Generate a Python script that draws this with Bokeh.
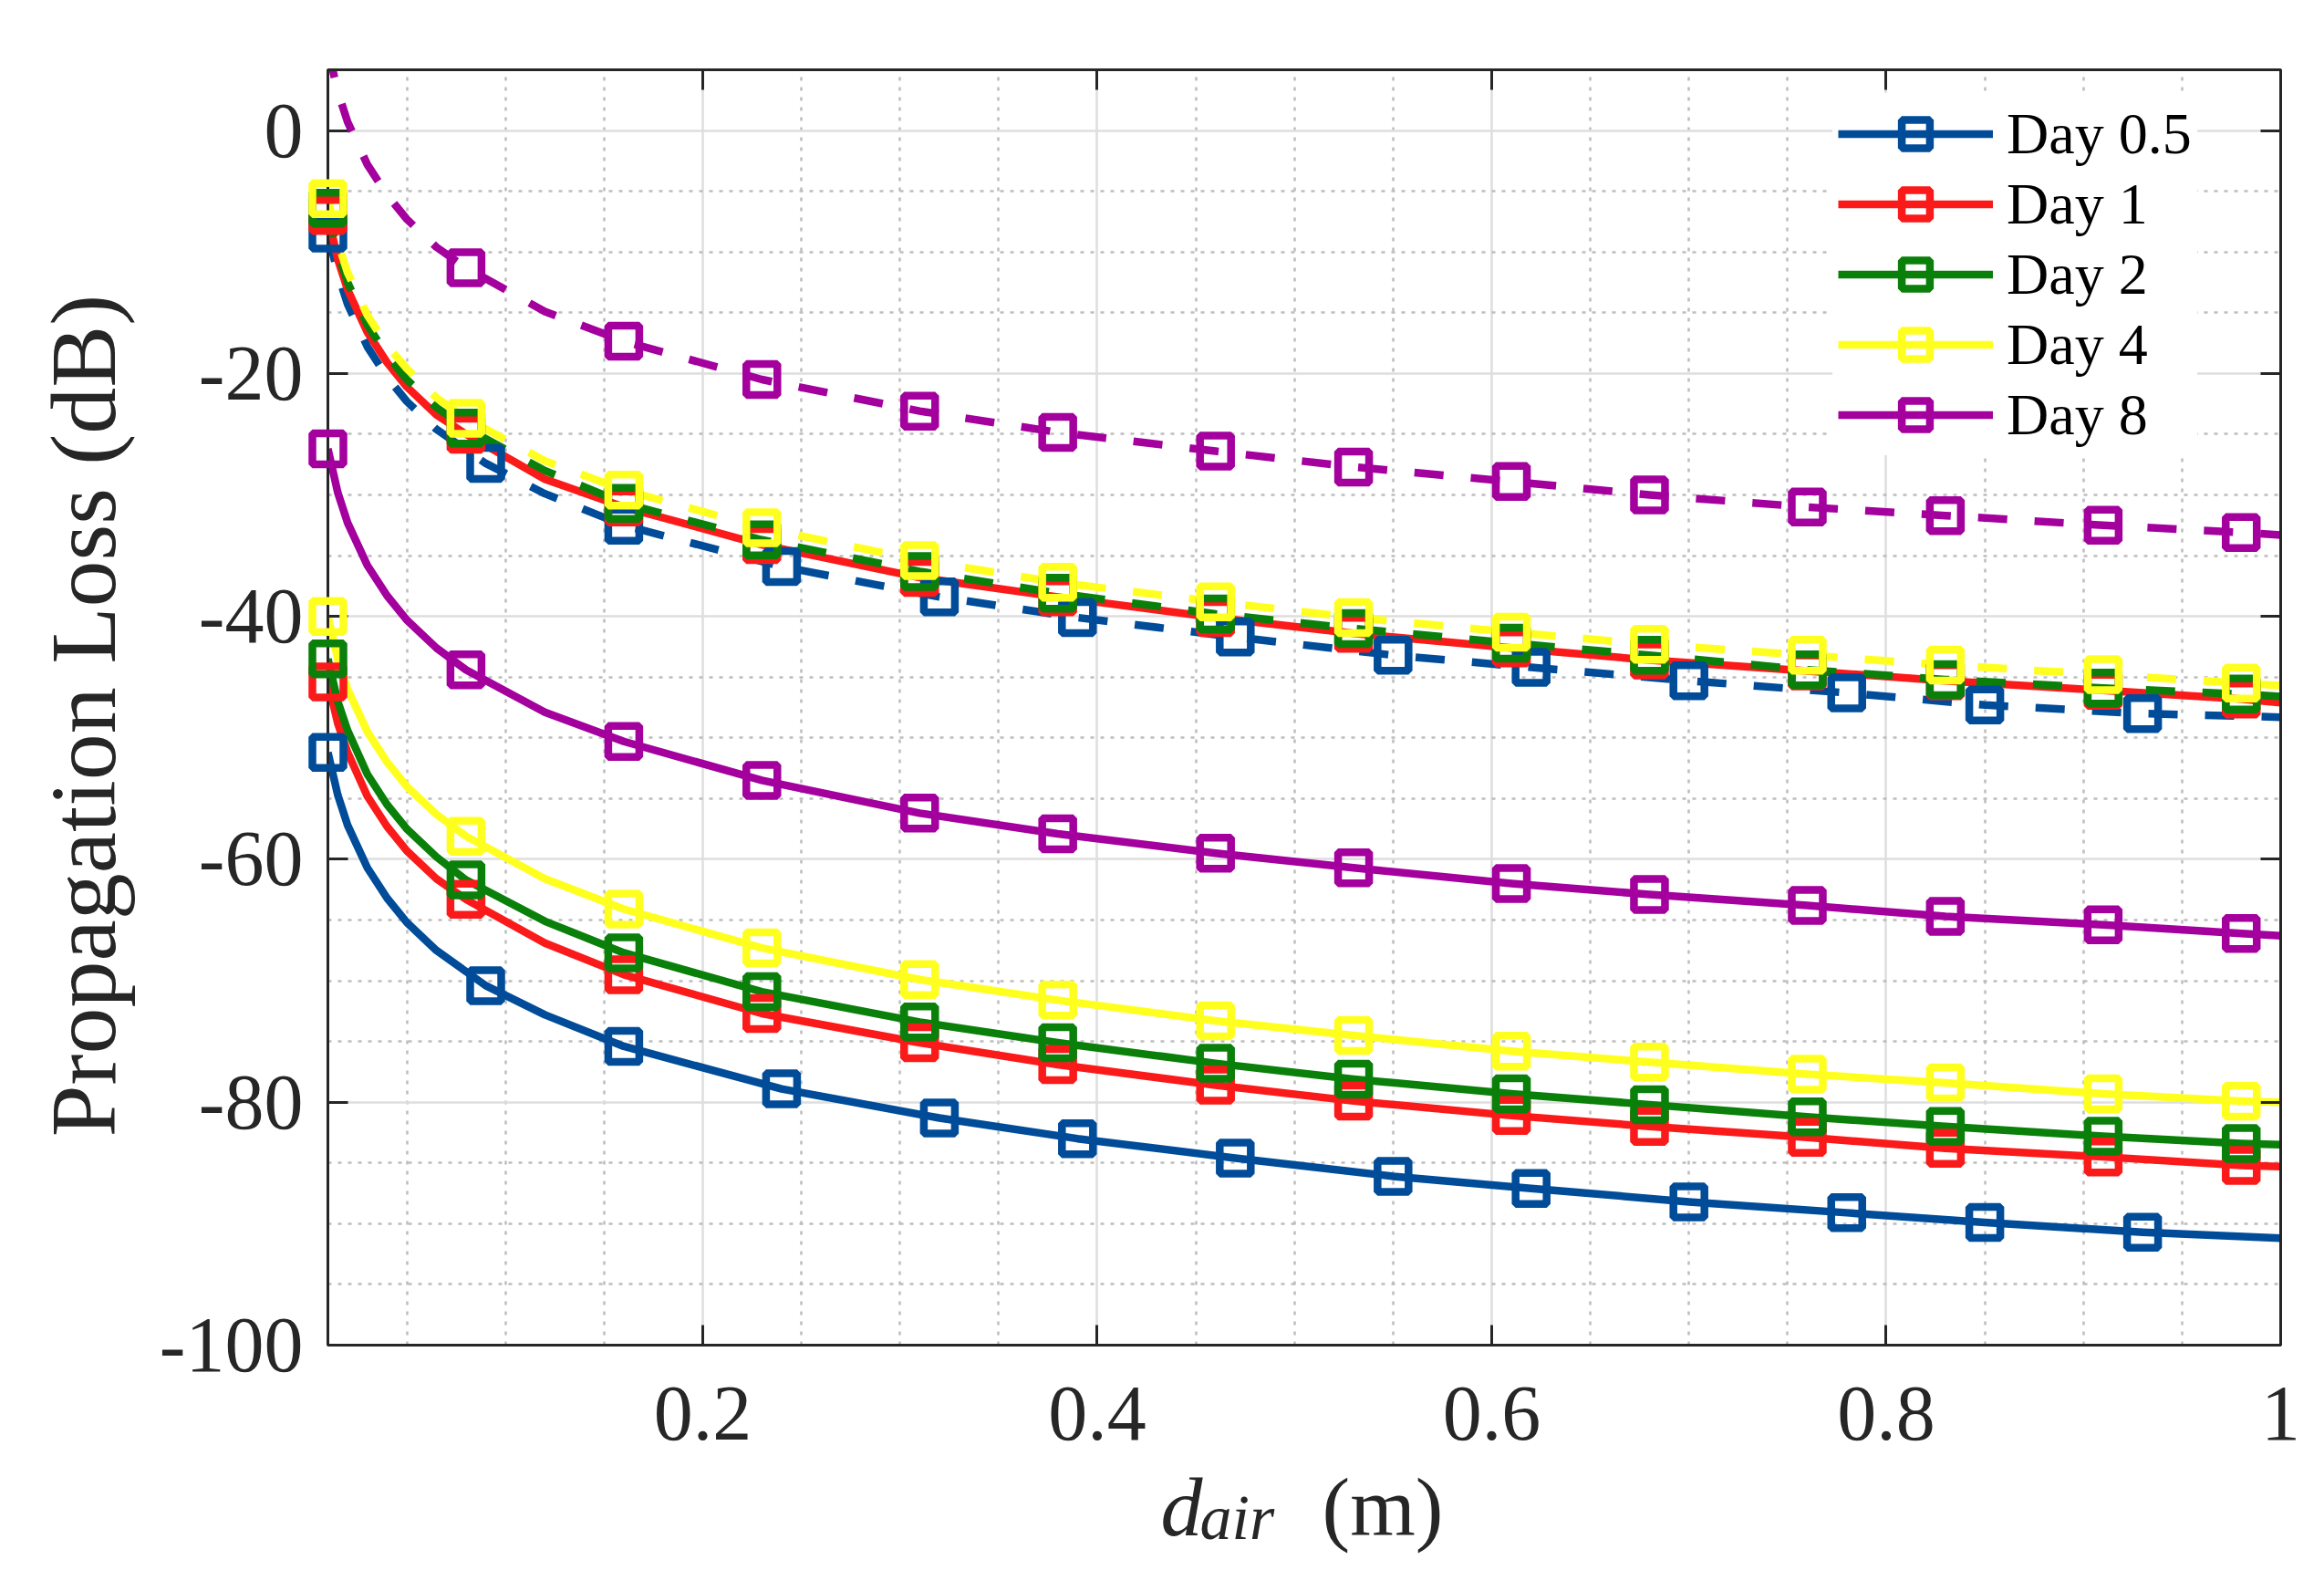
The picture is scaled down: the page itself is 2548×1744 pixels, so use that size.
import numpy as np
from bokeh.plotting import figure
from bokeh.models import Range1d, FixedTicker, LinearAxis, Legend, LegendItem
from bokeh.core.properties import value
from bokeh.embed import file_html
from bokeh.resources import INLINE

# ---------------- data ----------------
# marker positions along d_air (m)
MX_A = [0.01, 0.08, 0.16, 0.23, 0.31, 0.38, 0.46, 0.53, 0.61, 0.68, 0.76, 0.83, 0.91, 0.98]
MX_B = [0.01, 0.09, 0.16, 0.24, 0.32, 0.39, 0.47, 0.55, 0.62, 0.70, 0.78, 0.85, 0.93]
# extra line sample points (steep start of the curves) and last sample
X_HEAD = [0.015, 0.02, 0.03, 0.04, 0.05, 0.065, 0.12]
X_END = 1.0

# lower (solid) family
day05_lo_m = [-51.2, -70.4, -75.4, -78.9, -81.3, -83.0, -84.6, -86.1, -87.1, -88.2, -89.1, -89.9, -90.7]
day05_lo_h = [-54.7, -57.2, -60.7, -63.2, -65.2, -67.5, -72.8]
day05_lo_e = -91.2
day1_lo_m = [-45.4, -63.3, -69.5, -72.7, -75.1, -76.9, -78.6, -79.9, -81.1, -82.0, -82.9, -83.8, -84.5, -85.2]
day1_lo_h = [-48.8, -51.2, -54.8, -57.3, -59.3, -61.6, -66.9]
day1_lo_e = -85.3
day2_lo_m = [-43.5, -61.7, -67.7, -70.9, -73.4, -75.1, -76.8, -78.1, -79.3, -80.2, -81.2, -82.0, -82.8, -83.4]
day2_lo_h = [-47.0, -49.4, -53.0, -55.5, -57.5, -59.8, -65.1]
day2_lo_e = -83.5
day4_lo_m = [-40.0, -58.1, -64.1, -67.3, -69.9, -71.6, -73.3, -74.5, -75.8, -76.7, -77.7, -78.4, -79.3, -79.9]
day4_lo_h = [-43.5, -46.0, -49.5, -52.0, -54.0, -56.3, -61.6]
day4_lo_e = -80.0
day8_lo_m = [-26.2, -44.4, -50.3, -53.5, -56.2, -57.9, -59.5, -60.7, -62.0, -62.9, -63.8, -64.7, -65.4, -66.1]
day8_lo_h = [-29.8, -32.3, -35.8, -38.3, -40.3, -42.6, -47.9]
day8_lo_e = -66.3

# upper family
day05_up_m = [-8.45, -27.4, -32.5, -35.9, -38.4, -40.1, -41.7, -43.2, -44.2, -45.3, -46.3, -47.3, -48.0]
day05_up_h = [-11.8, -14.3, -17.8, -20.3, -22.3, -24.6, -29.9]
day05_up_e = -48.3
day1_up_m = [-7.0, -25.0, -31.0, -34.1, -36.8, -38.4, -40.1, -41.4, -42.6, -43.6, -44.5, -45.3, -46.1, -46.8]
day1_up_h = [-10.6, -13.1, -16.6, -19.1, -21.1, -23.4, -28.7]
day1_up_e = -47.1
day2_up_m = [-6.4, -24.5, -30.7, -33.7, -36.3, -38.1, -39.8, -41.0, -42.2, -43.2, -44.4, -45.2, -45.9, -46.4]
day2_up_h = [-10.0, -12.5, -16.0, -18.5, -20.5, -22.8, -28.0]
day2_up_e = -46.6
day4_up_m = [-5.6, -23.7, -29.6, -32.7, -35.4, -37.2, -38.8, -40.1, -41.3, -42.3, -43.2, -44.0, -44.8, -45.5]
day4_up_h = [-9.2, -11.7, -15.2, -17.7, -19.6, -22.0, -27.2]
day4_up_e = -45.7
day8_up_m = [6.7, -11.3, -17.35, -20.5, -23.1, -24.85, -26.4, -27.7, -28.9, -30.0, -31.0, -31.7, -32.5, -33.1]
day8_up_h = [3.2, 0.7, -2.8, -5.3, -7.3, -9.6, -14.9]
day8_up_e = -33.3

labels = ["Day 0.5", "Day 1", "Day 2", "Day 4", "Day 8"]
x_ticks = [0.2, 0.4, 0.6, 0.8, 1.0]
x_tick_labels = ["0.2", "0.4", "0.6", "0.8", "1"]
x_minor = [0.05, 0.1, 0.15, 0.25, 0.3, 0.35, 0.45, 0.5, 0.55, 0.65, 0.7, 0.75, 0.85, 0.9, 0.95]
y_ticks = [-100, -80, -60, -40, -20, 0]
y_tick_labels = ["-100", "-80", "-60", "-40", "-20", "0"]
y_minor = [-95, -90, -85, -75, -70, -65, -55, -50, -45, -35, -30, -25, -15, -10, -5]
y_title = "Propagation Loss (dB)"
x_title_parts = ["d", "air", "(m)"]
X_MIN, X_MAX = 0.01, 1.0
Y_MIN, Y_MAX = -100, 5

# ---------------- style ----------------
C_BLUE = "#004C99"
C_RED = "#FA1A1A"
C_GREEN = "#0A800A"
C_YELLOW = "#FFFF1F"
C_PURPLE = "#A3009E"
AX = "#262626"
FONT = "Liberation Serif"
LW = 8.5
MSIZE = 34
DASH = "32 30"

FRAME_W, FRAME_H = 2141, 1398

lower = [
    (MX_B, day05_lo_m, day05_lo_h, day05_lo_e, C_BLUE),
    (MX_A, day1_lo_m, day1_lo_h, day1_lo_e, C_RED),
    (MX_A, day2_lo_m, day2_lo_h, day2_lo_e, C_GREEN),
    (MX_A, day4_lo_m, day4_lo_h, day4_lo_e, C_YELLOW),
    (MX_A, day8_lo_m, day8_lo_h, day8_lo_e, C_PURPLE),
]
upper = [
    (MX_B, day05_up_m, day05_up_h, day05_up_e, C_BLUE, DASH),
    (MX_A, day1_up_m, day1_up_h, day1_up_e, C_RED, "solid"),
    (MX_A, day2_up_m, day2_up_h, day2_up_e, C_GREEN, DASH),
    (MX_A, day4_up_m, day4_up_h, day4_up_e, C_YELLOW, DASH),
    (MX_A, day8_up_m, day8_up_h, day8_up_e, C_PURPLE, DASH),
]


def build_line(mx, my, head, end):
    xs = np.array(list(mx) + X_HEAD + [X_END])
    ys = np.array(list(my) + head + [end])
    order = np.argsort(xs)
    return xs[order], ys[order]


def visible_markers(mx, my):
    mx = np.array(mx)
    my = np.array(my)
    keep = (my <= Y_MAX) & (my >= Y_MIN)
    return mx[keep], my[keep]


def px_to_x(px):
    # horizontal offset in pixels from the frame's left edge -> data x
    return X_MIN + px * (X_MAX - X_MIN) / FRAME_W


def px_to_y(py):
    # vertical offset in pixels from the frame's bottom edge -> data y
    return Y_MIN + py * (Y_MAX - Y_MIN) / FRAME_H


p = figure(frame_width=FRAME_W, frame_height=FRAME_H,
           min_border_left=359, min_border_top=76, min_border_right=30, min_border_bottom=250,
           x_range=Range1d(X_MIN, X_MAX), y_range=Range1d(Y_MIN, Y_MAX),
           output_backend="svg", toolbar_location=None,
           background_fill_color="white", border_fill_color="white")

p.outline_line_color = AX
p.outline_line_width = 3
p.outline_line_alpha = 1

xt = FixedTicker(ticks=x_ticks, minor_ticks=x_minor)
yt = FixedTicker(ticks=y_ticks, minor_ticks=y_minor)


def style_axis(ax, ticker, labels_map, show_labels):
    ax.ticker = ticker
    ax.axis_line_color = AX
    ax.axis_line_width = 3
    ax.major_tick_line_color = AX
    ax.major_tick_line_width = 3
    ax.major_tick_in = 22
    ax.major_tick_out = 0
    ax.minor_tick_in = 0
    ax.minor_tick_out = 0
    ax.minor_tick_line_alpha = 0
    ax.major_label_text_font = FONT
    ax.major_label_text_color = AX
    if show_labels:
        ax.major_label_overrides = labels_map
        ax.major_label_text_font_size = "86px"
    else:
        ax.major_label_overrides = {k: "" for k in labels_map}
        ax.major_label_text_font_size = "1px"
        ax.major_label_standoff = 0


style_axis(p.xaxis[0], xt, dict(zip(x_ticks, x_tick_labels)), True)
p.xaxis[0].major_label_standoff = 46
style_axis(p.yaxis[0], yt, dict(zip(y_ticks, y_tick_labels)), True)
p.yaxis[0].major_label_standoff = 27

top_axis = LinearAxis()
style_axis(top_axis, xt, dict(zip(x_ticks, x_tick_labels)), False)
p.add_layout(top_axis, "above")
right_axis = LinearAxis()
style_axis(right_axis, yt, dict(zip(y_ticks, y_tick_labels)), False)
p.add_layout(right_axis, "right")

for g in (p.xgrid[0], p.ygrid[0]):
    g.grid_line_color = "#DEDEDE"
    g.grid_line_width = 2.5
    g.minor_grid_line_color = "#BDBDBD"
    g.minor_grid_line_width = 2.5
    g.minor_grid_line_dash = "4 7"

legend_items = []
for (mx, my, head, end, col), lab in zip(lower, labels):
    xs, ys = build_line(mx, my, head, end)
    lr = p.line(xs, ys, line_color=col, line_width=LW, line_join="round")
    vx, vy = visible_markers(mx, my)
    mr = p.scatter(vx, vy, marker="square", size=MSIZE, line_color=col, line_width=LW,
                   fill_color=None, level="overlay")
    legend_items.append(LegendItem(label=lab, renderers=[lr, mr]))

for (mx, my, head, end, col, dash) in upper:
    xs, ys = build_line(mx, my, head, end)
    p.line(xs, ys, line_color=col, line_width=LW, line_dash=dash, line_join="round")
    vx, vy = visible_markers(mx, my)
    p.scatter(vx, vy, marker="square", size=MSIZE, line_color=col, line_width=LW,
              fill_color=None, level="overlay")

legend = Legend(items=legend_items, location=(1650, 975), glyph_width=170, glyph_height=77,
                label_height=77, spacing=0, padding=6, margin=0, label_standoff=15,
                label_text_font=FONT, label_text_font_size="64px", label_text_color="black",
                border_line_alpha=0, background_fill_color="white", background_fill_alpha=1)
p.add_layout(legend)

# axis titles: text glyphs drawn unclipped, placed by pixel offsets from the frame
p.text(x=[px_to_x(-268)], y=[px_to_y(690)], text=[y_title], angle=np.pi / 2,
       text_align="center", text_baseline="alphabetic", text_font=value(FONT),
       text_font_size="102px", text_color=AX, level="overlay")
p.text(x=[px_to_x(913)], y=[px_to_y(-177)], text=[x_title_parts[0]],
       text_align="left", text_baseline="alphabetic", text_font=value(FONT),
       text_font_style="italic", text_font_size="92px", text_color=AX, level="overlay")
p.text(x=[px_to_x(956)], y=[px_to_y(-189)], text=[x_title_parts[1]],
       text_align="left", text_baseline="alphabetic", text_font=value(FONT),
       text_font_style="italic", text_font_size="70px", text_color=AX, level="overlay")
p.text(x=[px_to_x(1090)], y=[px_to_y(-177)], text=[x_title_parts[2]],
       text_align="left", text_baseline="alphabetic", text_font=value(FONT),
       text_font_size="92px", text_color=AX, level="overlay")

open("out.html", "w").write(file_html(p, INLINE))
